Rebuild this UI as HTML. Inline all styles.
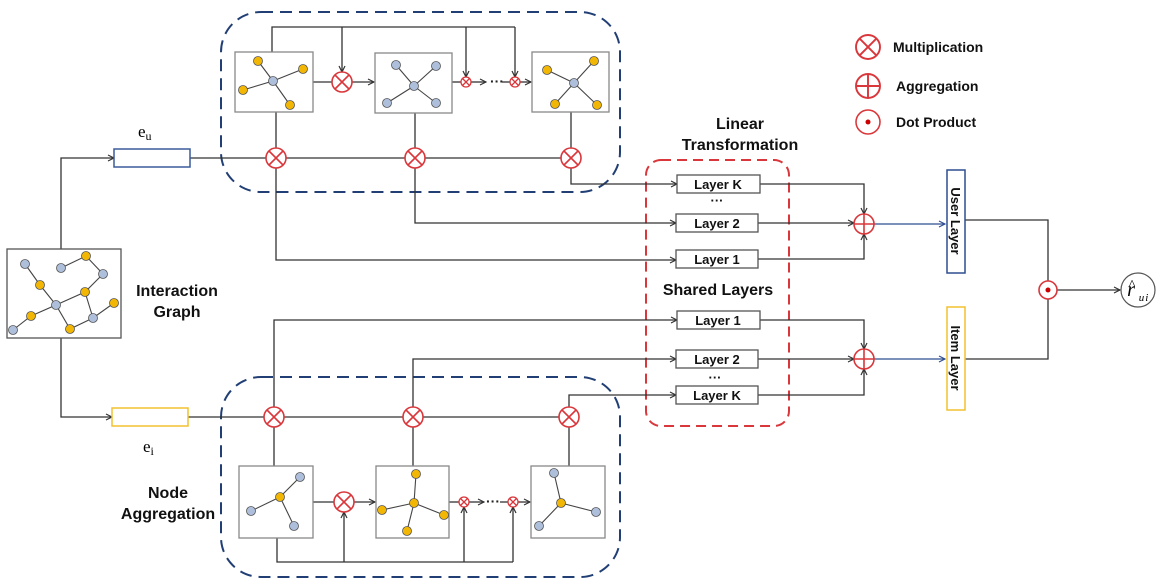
<!DOCTYPE html>
<html><head><meta charset="utf-8"><style>html,body{margin:0;padding:0;background:#fff}svg{display:block}</style></head>
<body>
<svg width="1160" height="581" viewBox="0 0 1160 581" xmlns="http://www.w3.org/2000/svg" font-family="Liberation Sans, sans-serif">
<defs>
<marker id="a" markerWidth="8" markerHeight="8" refX="7" refY="4" orient="auto" markerUnits="userSpaceOnUse"><path d="M1,1 L7,4 L1,7" fill="none" stroke="#333" stroke-width="1.2"/></marker>
<marker id="b" markerWidth="8" markerHeight="8" refX="7" refY="4" orient="auto" markerUnits="userSpaceOnUse"><path d="M1,1 L7,4 L1,7" fill="none" stroke="#2f4f8f" stroke-width="1.2"/></marker>
<g id="mx"><circle r="10" fill="#fff" stroke="#d9373b" stroke-width="1.6"/><path d="M-7,-7L7,7M7,-7L-7,7" stroke="#d9373b" stroke-width="1.6"/></g>
<g id="ms"><circle r="5" fill="#fff" stroke="#d9373b" stroke-width="1.3"/><path d="M-3.5,-3.5L3.5,3.5M3.5,-3.5L-3.5,3.5" stroke="#d9373b" stroke-width="1.3"/></g>
<g id="ag"><circle r="10" fill="#fff" stroke="#d9373b" stroke-width="1.6"/><path d="M-10,0H10M0,-10V10" stroke="#d9373b" stroke-width="1.6"/></g>
</defs>
<rect x="221" y="12" width="399" height="180" rx="40" fill="none" stroke="#213f75" stroke-width="2" stroke-dasharray="12,7"/>
<rect x="221" y="377" width="399" height="200" rx="40" fill="none" stroke="#213f75" stroke-width="2" stroke-dasharray="12,7"/>
<rect x="646" y="160" width="143" height="266" rx="15" fill="none" stroke="#d9373b" stroke-width="2" stroke-dasharray="10,6"/>
<g stroke="#333" stroke-width="1.3" fill="none">
<polyline points="272,52 272,27 515,27"/>
<line x1="342" y1="27" x2="342" y2="72" marker-end="url(#a)"/>
<line x1="466" y1="27" x2="466" y2="77" marker-end="url(#a)"/>
<line x1="515" y1="27" x2="515" y2="77" marker-end="url(#a)"/>
<line x1="313" y1="82" x2="332" y2="82"/>
<line x1="352" y1="82" x2="374" y2="82" marker-end="url(#a)"/>
<line x1="452" y1="82" x2="461" y2="82"/>
<line x1="471" y1="82" x2="486" y2="82" marker-end="url(#a)"/>
<line x1="502" y1="82" x2="510" y2="82"/>
<line x1="520" y1="82" x2="531" y2="82" marker-end="url(#a)"/>
<line x1="190" y1="158" x2="571" y2="158"/>
<line x1="276" y1="112" x2="276" y2="148"/><line x1="415" y1="113" x2="415" y2="148"/><line x1="571" y1="112" x2="571" y2="148"/>
<polyline points="276,168 276,260 676,260" marker-end="url(#a)"/>
<polyline points="415,168 415,223 676,223" marker-end="url(#a)"/>
<polyline points="571,168 571,184 677,184" marker-end="url(#a)"/>
<polyline points="61,249 61,158 114,158" marker-end="url(#a)"/>
<polyline points="61,338 61,417 112,417" marker-end="url(#a)"/>
<line x1="188" y1="417" x2="569" y2="417"/>
<line x1="274" y1="427" x2="274" y2="466"/><line x1="413" y1="427" x2="413" y2="466"/><line x1="569" y1="427" x2="569" y2="466"/>
<polyline points="274,407 274,320 677,320" marker-end="url(#a)"/>
<polyline points="413,407 413,359 676,359" marker-end="url(#a)"/>
<polyline points="569,407 569,395 676,395" marker-end="url(#a)"/>
<polyline points="277,538 277,562 513,562"/>
<line x1="344" y1="562" x2="344" y2="512" marker-end="url(#a)"/>
<line x1="464" y1="562" x2="464" y2="507" marker-end="url(#a)"/>
<line x1="513" y1="562" x2="513" y2="507" marker-end="url(#a)"/>
<line x1="313" y1="502" x2="334" y2="502"/>
<line x1="354" y1="502" x2="375" y2="502" marker-end="url(#a)"/>
<line x1="449" y1="502" x2="459" y2="502"/>
<line x1="469" y1="502" x2="484" y2="502" marker-end="url(#a)"/>
<line x1="500" y1="502" x2="508" y2="502"/>
<line x1="518" y1="502" x2="530" y2="502" marker-end="url(#a)"/>
<polyline points="760,184 864,184 864,214" marker-end="url(#a)"/>
<line x1="758" y1="223" x2="854" y2="223" marker-end="url(#a)"/>
<polyline points="758,259 864,259 864,234" marker-end="url(#a)"/>
<polyline points="760,320 864,320 864,349" marker-end="url(#a)"/>
<line x1="758" y1="359" x2="854" y2="359" marker-end="url(#a)"/>
<polyline points="758,395 864,395 864,369" marker-end="url(#a)"/>
<polyline points="965,220 1048,220 1048,281"/>
<polyline points="965,359 1048,359 1048,299"/>
<line x1="1057" y1="290" x2="1120" y2="290" marker-end="url(#a)"/>
</g>
<line x1="874" y1="224" x2="945" y2="224" stroke="#2f4f8f" stroke-width="1.2" marker-end="url(#b)"/>
<line x1="874" y1="359" x2="945" y2="359" stroke="#2f4f8f" stroke-width="1.2" marker-end="url(#b)"/>
<text x="490" y="86" font-size="14" font-weight="bold" fill="#222">···</text>
<text x="486" y="506" font-size="14" font-weight="bold" fill="#222">···</text>
<g fill="#fff" stroke="#888" stroke-width="1.3">
<rect x="235" y="52" width="78" height="60"/><rect x="375" y="53" width="77" height="60"/><rect x="532" y="52" width="77" height="60"/>
<rect x="239" y="466" width="74" height="72"/><rect x="376" y="466" width="73" height="72"/><rect x="531" y="466" width="74" height="72"/>
<rect x="7" y="249" width="114" height="89" stroke="#555"/>
</g>
<g stroke="#444" stroke-width="1.1" fill="none">
<path d="M273,81L258,61M273,81L303,69M273,81L243,90M273,81L290,105"/>
<path d="M414,86L396,65M414,86L436,66M414,86L387,103M414,86L436,103"/>
<path d="M574,83L547,70M574,83L594,61M574,83L555,104M574,83L597,105"/>
<path d="M280,497L300,477M280,497L251,511M280,497L294,526"/>
<path d="M414,503L416,474M414,503L382,510M414,503L444,515M414,503L407,531"/>
<path d="M561,503L554,473M561,503L596,512M561,503L539,526"/>
<path d="M25,264L40,285L56,305M61,268L86,256L103,274L85,292L56,305M85,292L93,318L114,303M93,318L70,329L56,305L31,316L13,330"/>
</g>
<g stroke="#555" stroke-width="0.8">
<g fill="#f2b705"><circle cx="258" cy="61" r="4.5"/><circle cx="303" cy="69" r="4.5"/><circle cx="243" cy="90" r="4.5"/><circle cx="290" cy="105" r="4.5"/>
<circle cx="547" cy="70" r="4.5"/><circle cx="594" cy="61" r="4.5"/><circle cx="555" cy="104" r="4.5"/><circle cx="597" cy="105" r="4.5"/>
<circle cx="280" cy="497" r="4.5"/><circle cx="414" cy="503" r="4.5"/><circle cx="416" cy="474" r="4.5"/><circle cx="382" cy="510" r="4.5"/><circle cx="444" cy="515" r="4.5"/><circle cx="407" cy="531" r="4.5"/><circle cx="561" cy="503" r="4.5"/>
<circle cx="86" cy="256" r="4.5"/><circle cx="40" cy="285" r="4.5"/><circle cx="85" cy="292" r="4.5"/><circle cx="114" cy="303" r="4.5"/><circle cx="31" cy="316" r="4.5"/><circle cx="70" cy="329" r="4.5"/></g>
<g fill="#aebfdc"><circle cx="273" cy="81" r="4.5"/><circle cx="414" cy="86" r="4.5"/><circle cx="396" cy="65" r="4.5"/><circle cx="436" cy="66" r="4.5"/><circle cx="387" cy="103" r="4.5"/><circle cx="436" cy="103" r="4.5"/><circle cx="574" cy="83" r="4.5"/>
<circle cx="300" cy="477" r="4.5"/><circle cx="251" cy="511" r="4.5"/><circle cx="294" cy="526" r="4.5"/><circle cx="554" cy="473" r="4.5"/><circle cx="596" cy="512" r="4.5"/><circle cx="539" cy="526" r="4.5"/>
<circle cx="25" cy="264" r="4.5"/><circle cx="61" cy="268" r="4.5"/><circle cx="103" cy="274" r="4.5"/><circle cx="56" cy="305" r="4.5"/><circle cx="93" cy="318" r="4.5"/><circle cx="13" cy="330" r="4.5"/></g>
</g>
<use href="#mx" x="342" y="82"/><use href="#ms" x="466" y="82"/><use href="#ms" x="515" y="82"/>
<use href="#mx" x="276" y="158"/><use href="#mx" x="415" y="158"/><use href="#mx" x="571" y="158"/>
<use href="#mx" x="274" y="417"/><use href="#mx" x="413" y="417"/><use href="#mx" x="569" y="417"/>
<use href="#mx" x="344" y="502"/><use href="#ms" x="464" y="502"/><use href="#ms" x="513" y="502"/>
<use href="#ag" x="864" y="224"/><use href="#ag" x="864" y="359"/>
<circle cx="1048" cy="290" r="9" fill="#fff" stroke="#d9373b" stroke-width="1.6"/><circle cx="1048" cy="290" r="2.5" fill="#c00"/>
<circle cx="1138" cy="290" r="17" fill="#fff" stroke="#555" stroke-width="1.2"/>
<text x="1131" y="296" font-family="Liberation Serif, serif" font-style="italic" font-size="20" text-anchor="middle">r</text>
<text x="1132" y="289" font-family="Liberation Serif, serif" font-size="14" text-anchor="middle">^</text>
<text x="1144" y="301" font-family="Liberation Serif, serif" font-style="italic" font-size="11" letter-spacing="1" text-anchor="middle">ui</text>
<rect x="114" y="149" width="76" height="18" fill="#fff" stroke="#3b5b9a" stroke-width="1.5"/>
<rect x="112" y="408" width="76" height="18" fill="#fff" stroke="#f2c12e" stroke-width="1.5"/>
<text x="138" y="137" font-family="Liberation Serif, serif" font-size="17">e<tspan font-size="12" dy="3">u</tspan></text>
<text x="143" y="452" font-family="Liberation Serif, serif" font-size="17">e<tspan font-size="12" dy="3">i</tspan></text>
<g fill="#fff" stroke="#555" stroke-width="1.3">
<rect x="677" y="175" width="83" height="18"/><rect x="676" y="214" width="82" height="18"/><rect x="676" y="250" width="82" height="18"/>
<rect x="677" y="311" width="83" height="18"/><rect x="676" y="350" width="82" height="18"/><rect x="676" y="386" width="82" height="18"/>
</g>
<g font-size="13" font-weight="bold" text-anchor="middle" fill="#111">
<text x="718" y="189">Layer K</text><text x="717" y="228">Layer 2</text><text x="717" y="264">Layer 1</text>
<text x="718" y="325">Layer 1</text><text x="717" y="364">Layer 2</text><text x="717" y="400">Layer K</text>
<text x="717" y="205">···</text><text x="715" y="382">···</text>
</g>
<rect x="947" y="170" width="18" height="103" fill="#fff" stroke="#2f4f8f" stroke-width="1.5"/>
<rect x="947" y="307" width="18" height="103" fill="#fff" stroke="#f2c12e" stroke-width="1.5"/>
<g font-size="13" font-weight="bold" fill="#111" text-anchor="middle">
<text transform="translate(951,221) rotate(90)">User Layer</text>
<text transform="translate(951,358) rotate(90)">Item Layer</text>
</g>
<g font-size="16" font-weight="bold" fill="#111" text-anchor="middle">
<text x="740" y="129">Linear</text><text x="740" y="150">Transformation</text>
<text x="718" y="295">Shared Layers</text>
<text x="177" y="296">Interaction</text><text x="177" y="317">Graph</text>
<text x="168" y="498">Node</text><text x="168" y="519">Aggregation</text>
</g>
<g transform="translate(868,47) scale(1.2)"><use href="#mx"/></g>
<g transform="translate(868,86) scale(1.2)"><use href="#ag"/></g>
<circle cx="868" cy="122" r="12" fill="#fff" stroke="#d9373b" stroke-width="1.6"/><circle cx="868" cy="122" r="2.5" fill="#c00"/>
<g font-size="14" font-weight="bold" fill="#111">
<text x="893" y="52">Multiplication</text><text x="896" y="91">Aggregation</text><text x="896" y="127">Dot Product</text>
</g>
</svg>
</body></html>
